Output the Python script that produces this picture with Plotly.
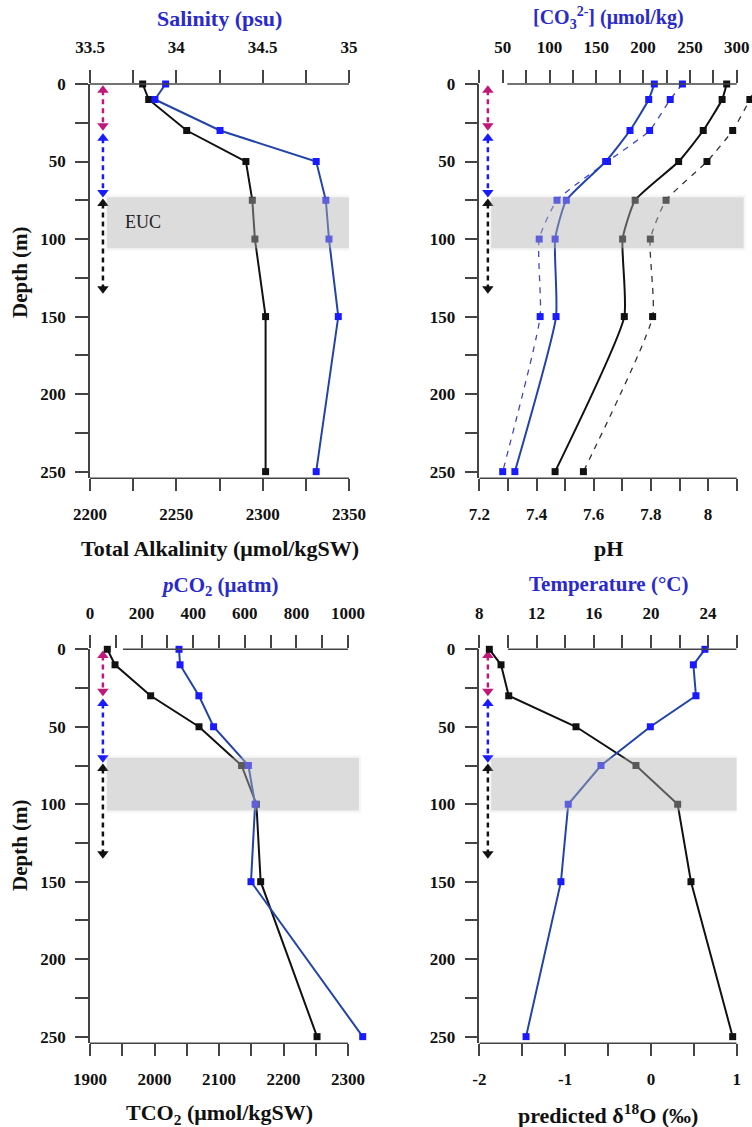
import numpy as np
import plotly.graph_objects as go

# ---------------- data ----------------
depth = [0, 10, 30, 50, 75, 100, 150, 250]

# Panel 1
alkalinity = [2230.5, 2234, 2256, 2290.3, 2294, 2295.5, 2301.7, 2301.7]
salinity = [33.938, 33.876, 34.253, 34.81, 34.866, 34.884, 34.938, 34.81]

# Panel 2
ph_solid = [8.065, 8.049, 7.983, 7.897, 7.745, 7.701, 7.707, 7.465]
ph_dashed = [8.17, 8.146, 8.086, 7.996, 7.853, 7.798, 7.806, 7.564]
co3_solid = [212, 206, 186, 160, 118, 106, 107, 63]
co3_dashed = [242, 229, 207, 162, 108, 89, 90, 50]

# Panel 3
tco2 = [1926.8, 1938.8, 1994, 2069, 2135, 2158, 2164.6, 2252]
pco2 = [345, 349, 422, 479, 614, 640, 624, 1057]

# Panel 4
d18o = [-1.883, -1.747, -1.657, -0.873, -0.174, 0.312, 0.467, 0.953]
temperature = [23.78, 22.97, 23.15, 19.96, 16.51, 14.22, 13.71, 11.27]

# EUC band (depth top, depth bottom) per panel
euc_band = [(73, 106), (73, 106), (70, 104), (70, 104)]

# depth zones drawn as double-headed arrows: (top, bottom, colour)
zones = [(1, 30, "#c0187a"), (32, 73, "#1a1aff"), (74, 135, "#111111")]
# x position of the zone arrows, in each panel's bottom-axis units
arrow_x = [2207.5, 7.23, 1920, -1.9]

# axis ranges: (start, end, major step, minor step)
bottom_axes = [(2200, 2350, 50, 25), (7.2, 8.1, 0.2, 0.1), (1900, 2300, 100, 50), (-2, 1, 1, 0.5)]
top_axes = [(33.5, 35, 0.5, 0.25), (25, 300, 50, 25), (0, 1000, 200, 100), (8, 26, 4, 2)]
top_label_start = [33.5, 50, 0, 8]
top_line_start = [33.5, 55, 128, 10]

# ---------------- style ----------------
FONT = "Liberation Serif"
BLACK = "#111111"
LINE_BLUE = "#2244aa"
MARK_BLUE = "#1a1aff"
TITLE_BLUE = "#2a2acc"
AXIS = "#444444"

W, H = 752, 1127
# pixel geometry: (axis start, axis end, drawing extent) horizontally; (top, bottom) vertically
px_x = [(90, 349, 349), (479.3, 736.7, 752), (90, 348, 368), (479.3, 736.7, 736.7)]
px_y = [(84, 478.3), (84, 478.3), (649.3, 1043.3), (649.3, 1043.3)]

fig = go.Figure()
layout = dict(width=W, height=H, margin=dict(l=0, r=0, t=0, b=0, autoexpand=False),
              paper_bgcolor="white", plot_bgcolor="white", showlegend=False,
              shapes=[], annotations=[])

tickfont = dict(family=FONT, size=17, color=BLACK, weight="bold")


def ticks(a0, a1, step, start=None):
    s = a0 if start is None else start
    n = int(round((a1 - s) / step))
    return [round(s + k * step, 6) for k in range(n + 1)]


def labels(vals):
    return [f"{v:g}" for v in vals]


for i in range(4):
    bx = "x" if i == 0 else f"x{2 * i + 1}"
    tx = f"x{2 * i + 2}"
    yy = "y" if i == 0 else f"y{i + 1}"
    bkey = "xaxis" if i == 0 else f"xaxis{2 * i + 1}"
    tkey = f"xaxis{2 * i + 2}"
    ykey = "yaxis" if i == 0 else f"yaxis{i + 1}"
    p0, p1, pe = px_x[i]
    frac = (pe - p0) / (p1 - p0)
    dom = [p0 / W, pe / W]
    ydom = [1 - px_y[i][1] / H, 1 - px_y[i][0] / H]

    b0, b1, bs, bm = bottom_axes[i]
    t0, t1, ts, tm = top_axes[i]
    bmaj = ticks(b0, b1, bs)
    bmin = [v for v in ticks(b0, b1, bm) if v not in bmaj]
    tmaj = ticks(t0, t1, ts, top_label_start[i])
    tmin = [v for v in ticks(t0, t1, tm) if v not in tmaj]

    common = dict(showgrid=False, zeroline=False, showline=False, automargin=False,
                  ticks="outside", tickwidth=1.5, tickcolor=AXIS, tickfont=tickfont)
    layout[bkey] = dict(domain=dom, anchor=yy, range=[b0, b0 + (b1 - b0) * frac],
                        tickmode="array", tickvals=bmaj, ticktext=labels(bmaj),
                        ticklen=12, ticklabelstandoff=8,
                        minor=dict(tickmode="array", tickvals=bmin, ticks="outside", ticklen=12,
                                   tickwidth=1.5, tickcolor=AXIS, showgrid=False), **common)
    layout[tkey] = dict(domain=dom, anchor=yy, overlaying=bx, side="top",
                        range=[t0, t0 + (t1 - t0) * frac],
                        tickmode="array", tickvals=tmaj, ticktext=labels(tmaj),
                        ticklen=13, ticklabelstandoff=10,
                        minor=dict(tickmode="array", tickvals=tmin, ticks="outside", ticklen=13,
                                   tickwidth=1.5, tickcolor=AXIS, showgrid=False), **common)
    ycommon = dict(common)
    ycommon["showline"] = True
    layout[ykey] = dict(domain=ydom, anchor=bx, range=[254.3, 0], dtick=50, tick0=0,
                        linecolor=AXIS, linewidth=1.5, ticklen=13, ticklabelstandoff=6,
                        minor=dict(dtick=25, tick0=0, ticks="outside", ticklen=13, tickwidth=1.5,
                                   tickcolor=AXIS, showgrid=False), **ycommon)

    # axis lines (bottom and top)
    layout["shapes"].append(dict(type="line", xref=bx, yref=f"{yy} domain", x0=b0, x1=b1, y0=0, y1=0,
                                 line=dict(color=AXIS, width=1.5)))
    layout["shapes"].append(dict(type="line", xref=tx, yref=f"{yy} domain", x0=top_line_start[i], x1=t1,
                                 y0=1, y1=1, line=dict(color=AXIS, width=1.5)))

    # EUC band (with a faint halo to mimic the soft edge)
    x0 = (107 - 90) / 259 if i % 2 == 0 else (491 - 479) / 258
    x1 = (360 - 90) / 259 if i % 2 == 0 else (744 - 479) / 258
    layout["shapes"].append(dict(type="rect", xref=bx, yref=yy,
                                 x0=b0 + (b1 - b0) * (x0 - 0.008), x1=b0 + (b1 - b0) * (x1 + 0.008),
                                 y0=euc_band[i][0] - 1.5, y1=euc_band[i][1] + 1.5,
                                 fillcolor="#b4b4b4", opacity=0.12, line_width=0, layer="above"))
    layout["shapes"].append(dict(type="rect", xref=bx, yref=yy,
                                 x0=b0 + (b1 - b0) * x0, x1=b0 + (b1 - b0) * x1,
                                 y0=euc_band[i][0], y1=euc_band[i][1],
                                 fillcolor="#b4b4b4", opacity=0.38, line_width=0, layer="above"))

    # depth-zone arrows
    for (z0, z1, col) in zones:
        fig.add_trace(go.Scatter(x=[arrow_x[i], arrow_x[i]], y=[z0 + 3, z1 - 3], mode="lines",
                                 line=dict(color=col, width=2.5, dash="5px,4px"),
                                 xaxis=bx, yaxis=yy, hoverinfo="skip"))
        fig.add_trace(go.Scatter(x=[arrow_x[i], arrow_x[i]], y=[z0 + 3, z1 - 3], mode="markers",
                                 marker=dict(symbol=["triangle-up", "triangle-down"], size=10, color=col),
                                 xaxis=bx, yaxis=yy, hoverinfo="skip", cliponaxis=False))


def add_series(xs, xa, ya, line_color, marker_color, dash="solid", width=2, shape="linear"):
    fig.add_trace(go.Scatter(x=xs, y=depth, mode="lines+markers", xaxis=xa, yaxis=ya,
                             line=dict(color=line_color, width=width, dash=dash, shape=shape, smoothing=0.5),
                             marker=dict(symbol="square", size=7, color=marker_color),
                             cliponaxis=False))


# Panel 1
add_series(alkalinity, "x", "y", BLACK, BLACK)
add_series(salinity, "x2", "y", LINE_BLUE, MARK_BLUE)
# Panel 2
add_series(ph_dashed, "x3", "y2", "#333333", BLACK, dash="6px,6px", width=1.3, shape="spline")
add_series(co3_dashed, "x4", "y2", "#4444cc", MARK_BLUE, dash="6px,6px", width=1.3, shape="spline")
add_series(ph_solid, "x3", "y2", BLACK, BLACK, shape="spline")
add_series(co3_solid, "x4", "y2", LINE_BLUE, MARK_BLUE, shape="spline")
# Panel 3
add_series(tco2, "x5", "y3", BLACK, BLACK)
add_series(pco2, "x6", "y3", LINE_BLUE, MARK_BLUE)
# Panel 4
add_series(d18o, "x7", "y4", BLACK, BLACK)
add_series(temperature, "x8", "y4", LINE_BLUE, MARK_BLUE)


def ann(text, xpx, ypx, color=BLACK, size=20, bold=True, angle=0):
    layout["annotations"].append(dict(text=text, x=xpx / W, y=1 - ypx / H, xref="paper", yref="paper",
                                      xanchor="center", yanchor="middle",
                                      showarrow=False, textangle=angle,
                                      font=dict(family=FONT, size=size, color=color,
                                                weight="bold" if bold else "normal")))


ann("Salinity (psu)", 219.5, 18, TITLE_BLUE, size=22)
ann("[CO<sub>3</sub><sup>2-</sup>] (μmol/kg)", 608, 18, TITLE_BLUE, size=20)
ann("<i>p</i>CO<sub>2</sub> (μatm)", 219.5, 586, TITLE_BLUE, size=21)
ann("Temperature (°C)", 608, 584, TITLE_BLUE, size=21)
ann("Total Alkalinity (μmol/kgSW)", 219.5, 548, size=22)
ann("pH", 608, 548, size=22)
ann("TCO<sub>2</sub> (μmol/kgSW)", 219.5, 1114, size=22)
ann("predicted δ<sup>18</sup>O (‰)", 608, 1114, size=22)
ann("Depth (m)", 20, 272, angle=-90, size=21)
ann("Depth (m)", 20, 845, angle=-90, size=21)
ann("EUC", 143, 222, "#222222", size=18, bold=False)

fig.update_layout(**layout)
fig.write_html("out.html")
